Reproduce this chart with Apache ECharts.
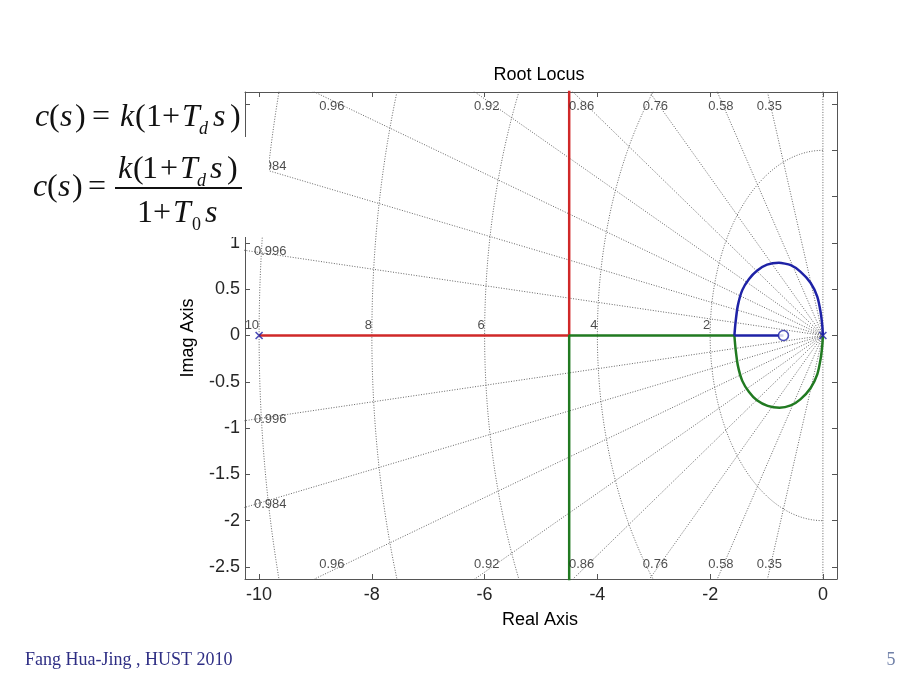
<!DOCTYPE html>
<html><head><meta charset="utf-8">
<script src="https://cdn.jsdelivr.net/npm/echarts@6/dist/echarts.min.js"></script>
<style>html,body{margin:0;padding:0;background:#fff}#c{width:920px;height:690px}</style>
</head><body><div id="c"></div>
<script>
// ---------------- data ----------------
const xTicks = [-10, -8, -6, -4, -2, 0];
const yTicks = [-2.5, -2, -1.5, -1, -0.5, 0, 0.5, 1, 1.5, 2, 2.5];
const dampingValues = [0.35, 0.58, 0.76, 0.86, 0.92, 0.96, 0.984, 0.996];
const frequencyValues = [2, 4, 6, 8, 10];
const poles = [[-10, 0], [0, 0]];
const zeros = [[-0.7, 0]];
const redBranch = [[-10, 0], [-4.5, 0], [-4.5, 3.0]];
const blueLoop = [[0, 0], [-0.01, 0.1], [-0.04, 0.25], [-0.1, 0.42], [-0.22, 0.57], [-0.4, 0.69], [-0.57, 0.76], [-0.78, 0.785], [-0.99, 0.765], [-1.17, 0.70], [-1.31, 0.61], [-1.43, 0.49], [-1.51, 0.32], [-1.55, 0.14], [-1.57, 0]];
const blueAxis = [[-1.57, 0], [-0.7, 0]];
const greenLoop = [[0, 0], [-0.01, -0.1], [-0.04, -0.25], [-0.1, -0.42], [-0.22, -0.57], [-0.4, -0.69], [-0.57, -0.755], [-0.77, -0.78], [-0.98, -0.76], [-1.17, -0.70], [-1.31, -0.61], [-1.43, -0.49], [-1.51, -0.32], [-1.55, -0.14], [-1.57, 0]];
const greenAxis = [[-1.57, 0], [-4.5, 0], [-4.5, -3.0]];

// ---------------- layout / style ----------------
const xMin = -10.25, xMax = 0.25, yMin = -2.63, yMax = 2.63;
const C_RED = '#d02828', C_BLUE = '#1e22a6', C_GREEN = '#217a21';
const GRID_STYLE = {color: '#666', width: 1, type: [1, 1.6]};
const SANS = '"Liberation Sans", Arial, sans-serif';
const SERIF = '"Liberation Serif", "Times New Roman", serif';

const chart = echarts.init(document.getElementById('c'), null, {renderer: 'canvas'});

function axisBase(extra) {
  return Object.assign({
    type: 'value',
    axisLine: {show: true, onZero: false, lineStyle: {color: '#555', width: 1}},
    splitLine: {show: false},
  }, extra);
}

// sgrid geometry
const series = [];
[0].concat(dampingValues).forEach(z => {
  const s = Math.sqrt(1 - z * z), R = 40;
  series.push({type: 'line', silent: true, symbol: 'none', z: 1, lineStyle: GRID_STYLE,
    data: [[-z * R, -s * R], [0, 0], [-z * R, s * R]]});
});
frequencyValues.forEach(r => {
  const pts = [];
  for (let a = 90; a <= 270; a += 1) {
    const t = a * Math.PI / 180;
    pts.push([r * Math.cos(t), r * Math.sin(t)]);
  }
  series.push({type: 'line', silent: true, symbol: 'none', z: 1, lineStyle: GRID_STYLE, data: pts});
});

// sgrid labels
const labelData = [];
const lblStyle = {show: true, fontSize: 13, color: '#1e1e1e', fontFamily: SANS};
dampingValues.forEach(z => {
  const s = Math.sqrt(1 - z * z);
  const yIn = yMax - 0.09;
  const xTop = -yIn * z / s;
  const txt = String(z);
  if (xTop > xMin) {
    labelData.push({value: [xTop, yIn], label: Object.assign({}, lblStyle, {formatter: txt, position: [0, 0], align: 'center', verticalAlign: 'top'})});
    labelData.push({value: [xTop, -yIn], label: Object.assign({}, lblStyle, {formatter: txt, position: [0, 0], align: 'center', verticalAlign: 'bottom'})});
  } else {
    const xIn = xMin + 0.16;
    const yL = -xIn * s / z;
    labelData.push({value: [xIn, yL], label: Object.assign({}, lblStyle, {formatter: txt, position: [0, 0], align: 'left', verticalAlign: 'middle'})});
    labelData.push({value: [xIn, -yL], label: Object.assign({}, lblStyle, {formatter: txt, position: [0, 0], align: 'left', verticalAlign: 'middle'})});
  }
});
frequencyValues.forEach(r => {
  labelData.push({value: [-r, 0], label: Object.assign({}, lblStyle, {formatter: String(r), position: [0, -4], align: 'right', verticalAlign: 'bottom'})});
});
series.push({type: 'scatter', silent: true, symbolSize: 0, z: 5, data: labelData, itemStyle: {color: 'transparent'}});

// locus branches
function branch(data, color, smooth) {
  return {type: 'line', silent: true, symbol: 'none', z: 3, smooth: smooth ? 0.2 : false,
    lineStyle: {color: color, width: 2.5}, data: data};
}
series.push(branch(redBranch, C_RED));
series.push(branch(greenAxis, C_GREEN));
series.push(branch(greenLoop, C_GREEN, true));
series.push(branch(blueLoop, C_BLUE, true));
series.push(branch(blueAxis, C_BLUE));
series.push({type: 'scatter', silent: true, z: 6, symbol: 'path://M0,0L10,10M10,0L0,10', symbolSize: 7,
  itemStyle: {color: 'transparent', borderColor: C_BLUE, borderWidth: 1.6}, data: poles});
series.push({type: 'scatter', silent: true, z: 6, symbol: 'circle', symbolSize: 10,
  itemStyle: {color: '#fff', borderColor: C_BLUE, borderWidth: 1.6}, data: zeros});

// formula glyphs: [text, left x, kind]
const F = 32, FS = 18;
const line1 = [['c',35,'i'],['(',49,'r'],['s',60,'i'],[')',75,'r'],['=',92,'r'],['k',120,'i'],['(',135,'r'],['1',146,'r'],['+',162,'r'],['T',182,'i'],['d',199,'si'],['s',213,'i'],[')',230,'r']];
const line2 = [['c',33,'i'],['(',47,'r'],['s',58,'i'],[')',72,'r'],['=',88,'r']];
const numer = [['k',118,'i'],['(',133,'r'],['1',142,'r'],['+',160,'r'],['T',180,'i'],['d',197,'si'],['s',210,'i'],[')',227,'r']];
const denom = [['1',137,'r'],['+',153,'r'],['T',173,'i'],['0',192,'sr'],['s',205,'i']];
const graphics = [];
function addGlyphs(list, baseline) {
  list.forEach(([t, x, k]) => {
    const sub = k[0] === 's' && k.length === 2;
    const size = sub ? FS : F;
    const ital = (k === 'i' || k === 'si');
    const base = sub ? baseline + 7 : baseline;
    graphics.push({type: 'text', z: 101, x: x, y: base - 0.34 * size,
      style: {text: t, font: (ital ? 'italic ' : '') + size + 'px ' + SERIF, fill: '#111',
        align: 'left', verticalAlign: 'middle', textAlign: 'left', textVerticalAlign: 'middle'}});
  });
}
graphics.push({type: 'rect', z: 100, shape: {x: 0, y: 84, width: 244, height: 53}, style: {fill: '#fff'}});
graphics.push({type: 'rect', z: 100, shape: {x: 0, y: 137, width: 269, height: 100}, style: {fill: '#fff'}});
addGlyphs(line1, 128);
addGlyphs(line2, 198);
addGlyphs(numer, 180);
addGlyphs(denom, 224);
graphics.push({type: 'rect', z: 101, shape: {x: 115, y: 187, width: 127, height: 2}, style: {fill: '#111'}});

function txt(text, x, y, font, fill, rot) {
  return {type: 'text', z: 102, x: x, y: y, rotation: rot || 0,
    style: {text: text, font: font, fill: fill, align: 'center', verticalAlign: 'middle', textAlign: 'center', textVerticalAlign: 'middle'}};
}
graphics.push(txt('Root Locus', 539, 75, '18px ' + SANS, '#000'));
graphics.push(txt('Real Axis', 540, 620, '18px ' + SANS, '#000'));
graphics.push(txt('Imag Axis', 188, 338, '18px ' + SANS, '#000', Math.PI / 2));
graphics.push({type: 'text', z: 102, x: 25, y: 660,
  style: {text: 'Fang Hua-Jing , HUST 2010', font: '18px ' + SERIF, fill: '#2e2e84', align: 'left', verticalAlign: 'middle', textAlign: 'left', textVerticalAlign: 'middle'}});
graphics.push(txt('5', 891, 660, '18px ' + SERIF, '#7080a8'));

const tickLbl = {fontSize: 18, color: '#262626', fontFamily: SANS};
chart.setOption({
  animation: false,
  backgroundColor: '#fff',
  grid: {left: 245, right: 83, top: 92, bottom: 111, containLabel: false},
  xAxis: [
    axisBase({position: 'bottom', min: xMin, max: xMax,
      axisTick: {inside: true, length: 5, customValues: xTicks, lineStyle: {color: '#555'}},
      axisLabel: Object.assign({customValues: xTicks, margin: 7}, tickLbl)}),
    axisBase({position: 'top', min: xMin, max: xMax,
      axisTick: {inside: true, length: 5, customValues: xTicks, lineStyle: {color: '#555'}},
      axisLabel: {show: false}})
  ],
  yAxis: [
    axisBase({position: 'left', min: yMin, max: yMax,
      axisTick: {inside: true, length: 5, customValues: yTicks, lineStyle: {color: '#555'}},
      axisLabel: Object.assign({customValues: yTicks, margin: 5}, tickLbl)}),
    axisBase({position: 'right', min: yMin, max: yMax,
      axisTick: {inside: true, length: 5, customValues: yTicks, lineStyle: {color: '#555'}},
      axisLabel: {show: false}})
  ],
  series: series,
  graphic: {elements: graphics}
});
</script></body></html>
